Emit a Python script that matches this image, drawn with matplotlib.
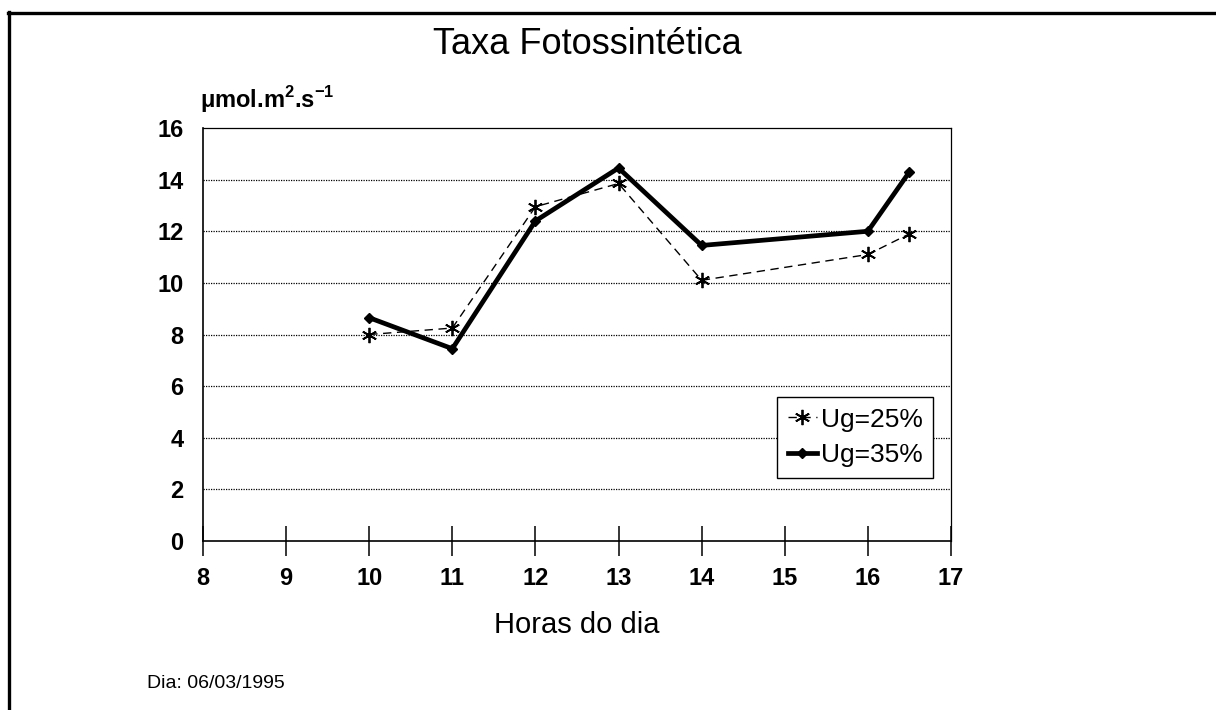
import matplotlib
matplotlib.use("Agg")
import matplotlib.pyplot as plt
from matplotlib.lines import Line2D

# data
horas = [10, 11, 12, 13, 14, 16, 16.5]
ug25 = [8.0, 8.25, 12.95, 13.85, 10.1, 11.1, 11.9]
ug35 = [8.65, 7.45, 12.4, 14.45, 11.45, 12.0, 14.3]
series_labels = ["Ug=25%", "Ug=35%"]
xticks = list(range(8, 18))
yticks = list(range(0, 17, 2))

plt.rcParams['font.family'] = ['Liberation Sans', 'DejaVu Sans']
plt.rcParams['mathtext.fontset'] = 'custom'
plt.rcParams['mathtext.rm'] = 'Liberation Sans'
plt.rcParams['mathtext.bf'] = 'Liberation Sans:bold'

fig = plt.figure(figsize=(12.16, 7.10), dpi=100)
ax = fig.add_axes([203 / 1216, 1 - 541 / 710, (951 - 203) / 1216, (541 - 128) / 710])

ax.plot(horas, ug25, color='black', lw=1.0, ls=(0, (6, 4)), marker=(6, 2, 0), ms=11,
        markeredgewidth=1.3, label=series_labels[0])
ax.plot(horas, ug35, color='black', lw=3.4, marker='D', ms=5, label=series_labels[1])

ax.set_xlim(8, 17)
ax.set_ylim(0, 16)
ax.set_xticks(xticks)
ax.set_yticks(yticks)
for y in yticks[1:-1]:
    ax.axhline(y, color='black', lw=0.9, ls=(0, (1, 1)), zorder=0)

for side in ['top', 'right']:
    ax.spines[side].set_linewidth(0.9)
ax.spines['left'].set_linewidth(1.2)
ax.spines['bottom'].set_linewidth(1.2)
ax.tick_params(axis='x', direction='inout', length=22, width=1.1, pad=8,
               labelsize=17)
ax.tick_params(axis='y', length=0, pad=14, labelsize=17)
for lab in ax.get_xticklabels() + ax.get_yticklabels():
    lab.set_fontweight('bold')

leg = ax.legend(loc='upper left', bbox_to_anchor=((777 - 203) / 748, 1 - (397 - 128) / 413),
                frameon=True, fancybox=False, edgecolor='black', framealpha=1,
                prop={'size': 19}, handlelength=1.1,
                handletextpad=0.15, borderpad=0.4, labelspacing=0.45,
                borderaxespad=0)
leg.get_frame().set_linewidth(1.0)

fig.text(587 / 1216, 1 - 45 / 710, "Taxa Fotossintética", ha='center', va='center',
         fontsize=26)
fig.text(200 / 1216, 1 - 100 / 710, r"$\mathbf{\mu}$mol.m$^{\mathbf{2}}$.s$^{\mathbf{-1}}$",
         ha='left', va='center', fontsize=17, fontweight='bold')
fig.text(577 / 1216, 1 - 625 / 710, "Horas do dia", ha='center', va='center',
         fontsize=21)
fig.text(147 / 1216, 1 - 683 / 710, "Dia: 06/03/1995", ha='left', va='center',
         fontsize=14)

# outer frame of the scanned figure
fig.add_artist(Line2D([9 / 1216, 9 / 1216], [0, 1 - 12 / 710], color='black', lw=2.4,
                      transform=fig.transFigure))
fig.add_artist(Line2D([8 / 1216, 1], [1 - 13 / 710, 1 - 13 / 710], color='black', lw=2.4,
                      transform=fig.transFigure))

fig.savefig("out.png", dpi=100)
